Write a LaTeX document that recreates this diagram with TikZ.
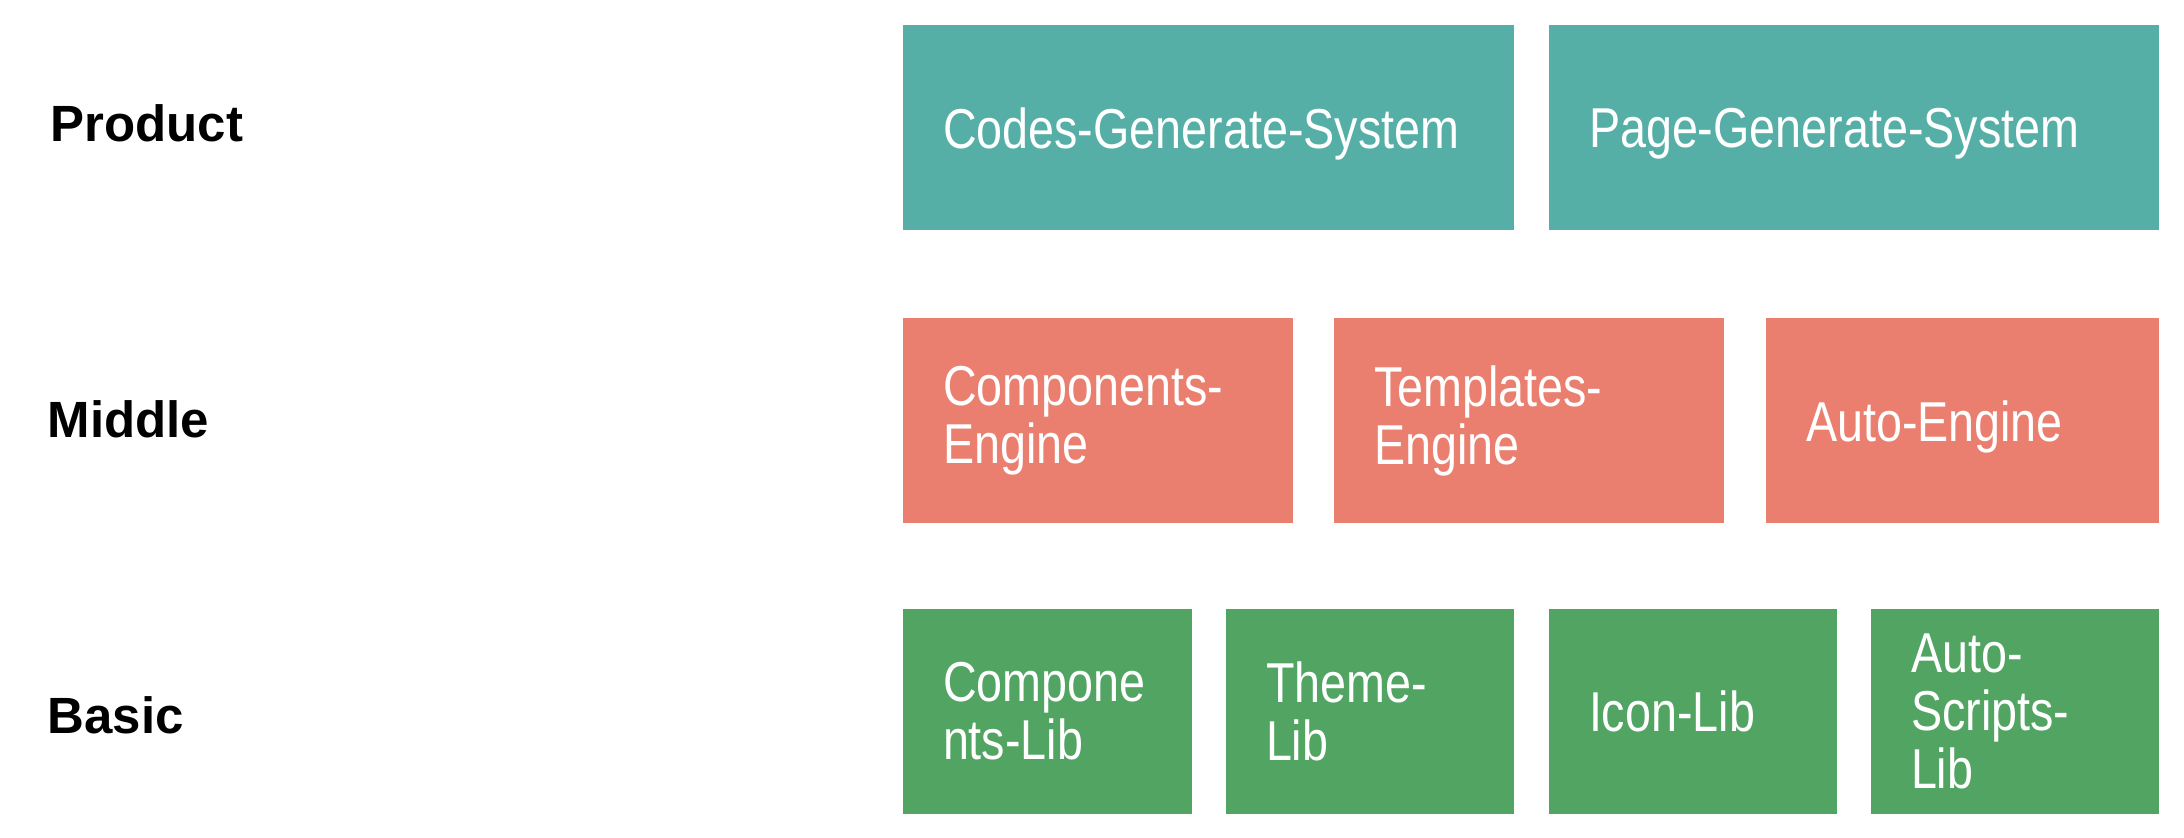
\documentclass[tikz,border=0pt]{standalone}
\usepackage{fontspec}
\setmainfont{Liberation Sans}
\newfontfamily\boxfont[FakeStretch=0.83]{Liberation Sans}
\definecolor{prodcol}{RGB}{86,175,166}
\definecolor{midcol}{RGB}{234,127,111}
\definecolor{basiccol}{RGB}{81,164,98}
\tikzset{
	layer/.style={anchor=west, inner sep=0pt, font=\bfseries\fontsize{14.5}{16}\selectfont},
	box/.style={rectangle, minimum height=2.05cm, inner xsep=0.4cm, inner ysep=0pt, align=left, text=white, font=\boxfont\fontsize{16}{16.5}\selectfont},
	prodbox/.style={box, fill=prodcol},
	midbox/.style={box, fill=midcol},
	basicbox/.style={box, fill=basiccol}
}
\begin{document}
\begin{tikzpicture}
		\useasboundingbox (0,0) rectangle (21.84,-8.38);
		% layer names
		\path
		(0.5,-1.23) node[layer] (product) {Product}
		(0.47,-4.19) node[layer] (middle) {Middle}
		(0.47,-7.15) node[layer] (basic) {Basic}
		;
		% product layer
		\path
		(12.085,-1.28) node[prodbox, text width=5.31cm, text depth=0pt] (codesys) {Codes-Generate-System}
		(18.54,-1.28) node[prodbox, text width=5.30cm, text depth=0pt] (pagesys) {Page-Generate-System}
		;
		% middle layer
		\path
		(10.98,-4.21) node[midbox, text width=3.10cm] (compeng) {Components-\\Engine}
		(15.29,-4.21) node[midbox, text width=3.10cm] (tpleng) {Templates-\\Engine}
		(19.625,-4.21) node[midbox, text width=3.13cm, text depth=0pt] (autoeng) {Auto-Engine}
		;
		% basic layer
		\path
		(10.475,-7.115) node[basicbox, text width=2.09cm] (complib) {Compone\\nts-Lib}
		(13.70,-7.115) node[basicbox, text width=2.08cm] (themelib) {Theme-\\Lib}
		(16.93,-7.115) node[basicbox, text width=2.08cm] (iconlib) {Icon-Lib}
		(20.15,-7.115) node[basicbox, text width=2.08cm] (scriptlib) {Auto-\\Scripts-\\Lib}
		;
	\end{tikzpicture}
\end{document}
